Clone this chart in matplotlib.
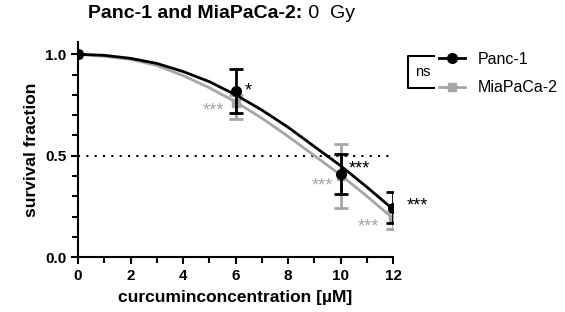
import matplotlib.pyplot as plt
from matplotlib.lines import Line2D

plt.rcParams['font.family'] = ['Liberation Sans', 'DejaVu Sans']

# measured points
conc = [0, 6, 10, 12]
panc = [1.0, 0.82, 0.41, 0.24]
panc_lo = [0.0, 0.11, 0.10, 0.07]
panc_hi = [0.0, 0.105, 0.10, 0.08]
mia = [1.0, 0.76, 0.40, 0.19]
mia_lo = [0.0, 0.08, 0.16, 0.05]
mia_hi = [0.0, 0.04, 0.16, 0.03]

# fitted curves
fit_x = [0, 1, 2, 3, 4, 5, 6, 7, 8, 9, 10, 11, 12]
panc_fit = [1.0, 0.995, 0.98, 0.955, 0.915, 0.865, 0.80, 0.725, 0.64, 0.545, 0.45, 0.345, 0.235]
mia_fit = [1.0, 0.99, 0.975, 0.945, 0.895, 0.835, 0.765, 0.685, 0.595, 0.50, 0.405, 0.30, 0.19]

grey = '#a6a6a6'

fig = plt.figure(figsize=(5.65, 3.12), dpi=100)
ax = fig.add_axes([0.138, 0.176, 0.558, 0.689])

ax.plot(fit_x, mia_fit, color=grey, lw=2, zorder=2)
ax.errorbar(conc, mia, yerr=[mia_lo, mia_hi], fmt='s', color=grey, ms=6,
            capsize=5, elinewidth=2, capthick=2, zorder=3)
ax.plot(fit_x, panc_fit, color='black', lw=2, zorder=4)
ax.errorbar(conc, panc, yerr=[panc_lo, panc_hi], fmt='o', color='black', ms=7,
            capsize=5, elinewidth=2, capthick=2, zorder=5)

ax.plot([0, 12], [0.5, 0.5], color='black', ls=(0, (1, 3)), lw=1.5, zorder=1)

# significance stars
star = dict(fontsize=13, va='center', clip_on=False)
ax.text(6.35, 0.82, '*', color='black', ha='left', **star)
ax.text(10.3, 0.435, '***', color='black', ha='left', **star)
ax.text(12.5, 0.25, '***', color='black', ha='left', **star)
ax.text(5.55, 0.72, '***', color=grey, ha='right', **star)
ax.text(9.7, 0.35, '***', color=grey, ha='right', **star)
ax.text(11.45, 0.15, '***', color=grey, ha='right', **star)

ax.set_xlim(0, 12)
ax.set_ylim(0, 1.06)
ax.spines['left'].set_bounds(0, 1.06)
for s in ['top', 'right']:
    ax.spines[s].set_visible(False)
for s in ['left', 'bottom']:
    ax.spines[s].set_linewidth(1.5)
ax.set_xticks([0, 2, 4, 6, 8, 10, 12])
ax.set_xticks(range(13), minor=True)
ax.set_yticks([0.0, 0.5, 1.0])
ax.set_yticklabels(['0.0', '0.5', '1.0'])
ax.set_yticks([i / 10 for i in range(11)], minor=True)
ax.tick_params(which='major', length=5, width=1.5, labelsize=11)
ax.tick_params(which='minor', length=4, width=1.5)
for lab in ax.get_xticklabels() + ax.get_yticklabels():
    lab.set_fontweight('bold')
ax.set_xlabel('curcuminconcentration [µM]', fontsize=12.5, fontweight='bold', labelpad=5)
ax.set_ylabel('survival fraction', fontsize=12.5, fontweight='bold', labelpad=4)

fig.text(0.535, 0.958, 'Panc-1 and MiaPaCa-2:', fontsize=14, fontweight='bold',
         ha='right', va='center')
fig.text(0.537, 0.958, ' 0  Gy', fontsize=14, ha='left', va='center')

handles = [Line2D([], [], color='black', marker='o', ms=7, lw=2),
           Line2D([], [], color=grey, marker='s', ms=6, lw=2)]
fig.legend(handles, ['Panc-1', 'MiaPaCa-2'], loc='upper left',
           bbox_to_anchor=(0.752, 0.88), frameon=False, fontsize=11.5,
           handlelength=1.6, handletextpad=0.8, labelspacing=0.85)

# ns bracket
bx0, bx1 = 408 / 565, 434 / 565
by0, by1 = 1 - 56 / 312, 1 - 88 / 312
fig.add_artist(Line2D([bx1, bx0, bx0, bx1], [by0, by0, by1, by1],
                      color='black', lw=1.5))
fig.text(0.735, (by0 + by1) / 2, 'ns', fontsize=10.5, ha='left', va='center')

fig.savefig('out.png', dpi=100)
